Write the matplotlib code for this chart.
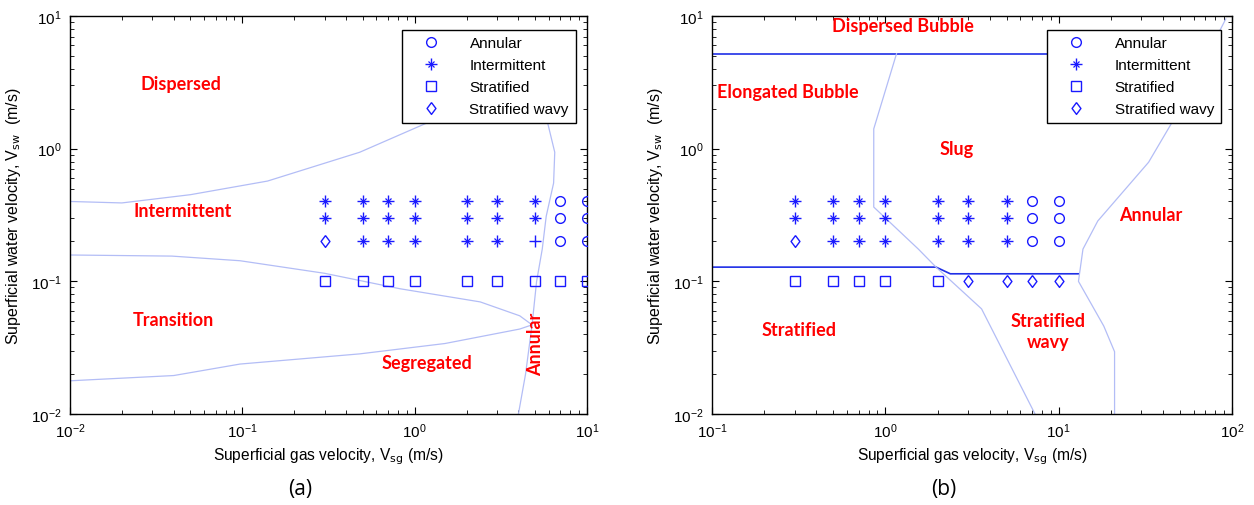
import matplotlib.pyplot as plt
from matplotlib.lines import Line2D

plt.rcParams['font.family'] = ['Liberation Sans', 'DejaVu Sans']

# measurement grid
vsg = [0.3, 0.5, 0.7, 1, 2, 3, 5, 7, 10]
vsw_rows = [0.4, 0.3, 0.2, 0.1]

# observed regime at each grid point, one string per row (row order = vsw_rows)
# o annular, * intermittent, s stratified, d stratified wavy, + intermittent (plus)
obs_a = ['*******oo', '*******oo', 'd*****+oo', 'sssssssss']
obs_b = ['*******oo', '*******oo', 'd******oo', 'sssssdddd']

# (a) boundaries
a_disp_x = [0.01, 0.02, 0.05, 0.14, 0.48, 1.41, 3.0, 4.5]
a_disp_y = [0.40, 0.39, 0.45, 0.57, 0.94, 1.73, 2.6, 3.2]
a_ann_x = [5.0, 5.8, 6.5, 6.4, 5.8, 5.5, 5.1, 4.8, 4.4, 4.0]
a_ann_y = [3.5, 1.73, 0.94, 0.55, 0.31, 0.175, 0.10, 0.047, 0.02, 0.01]
a_int_x = [0.01, 0.039, 0.097, 0.30, 0.82, 2.4, 4.07, 4.8]
a_int_y = [0.158, 0.155, 0.143, 0.115, 0.088, 0.070, 0.055, 0.047]
a_seg_x = [0.01, 0.04, 0.097, 0.48, 1.5, 4.07, 4.8]
a_seg_y = [0.0178, 0.0195, 0.0238, 0.0284, 0.034, 0.0437, 0.047]

# (b) boundaries
b_db_x = [0.1, 10]
b_db_y = [5.2, 5.2]
b_eb_x = [1.16, 0.857, 0.857, 1.55, 1.96, 3.59, 7.3]
b_eb_y = [5.2, 1.41, 0.363, 0.175, 0.128, 0.062, 0.01]
b_st_x = [0.1, 1.96, 2.37, 13.0]
b_st_y = [0.128, 0.128, 0.114, 0.114]
b_an_x = [92, 49, 33, 16.8, 13.8, 13.0, 18.2, 21, 21]
b_an_y = [9.5, 1.9, 0.79, 0.285, 0.175, 0.10, 0.046, 0.0295, 0.01]

labels_a = [('Dispersed', 0.044, 3.1, 0), ('Intermittent', 0.045, 0.34, 0),
            ('Transition', 0.040, 0.052, 0), ('Segregated', 1.17, 0.0243, 0),
            ('Annular', 5.05, 0.0343, 90)]
labels_b = [('Dispersed Bubble', 1.26, 8.55, 0), ('Elongated Bubble', 0.275, 2.72, 0),
            ('Slug', 2.57, 1.0, 0), ('Annular', 34, 0.32, 0),
            ('Stratified', 0.316, 0.043, 0), ('Stratified\nwavy', 8.7, 0.042, 0)]

legend_names = ['Annular', 'Intermittent', 'Stratified', 'Stratified wavy']

LIGHT = '#b3bdf6'
DARK = '#1f2fe6'
BLUE = '#1a1aff'
DIAMOND = [(0, 1), (0.75, 0), (0, -1), (-0.75, 0), (0, 1)]


def asterisk(x, y, ax=None):
    # MATLAB-like '*': a plus with a smaller x on top
    kw = dict(mfc='none', mec=BLUE, ls='none', zorder=3)
    if ax is None:
        return (Line2D([], [], marker='+', ms=9, mew=1.0, **kw),
                Line2D([], [], marker='x', ms=5, mew=0.9, **kw))
    ax.plot(x, y, marker='+', ms=9, mew=1.0, **kw)
    ax.plot(x, y, marker='x', ms=5, mew=0.9, **kw)


mk = {'o': ('o', 7), 's': ('s', 7), 'd': (DIAMOND, 8.5), '+': ('+', 9)}


def draw_points(ax, obs):
    for row, yv in zip(obs, vsw_rows):
        for c, xv in zip(row, vsg):
            if c == '*':
                asterisk(xv, yv, ax)
                continue
            m, s = mk[c]
            ax.plot(xv, yv, marker=m, ms=s, mfc='none', mec=BLUE, mew=1.0,
                    ls='none', zorder=3)


def style(ax, xlim):
    ax.set_xscale('log')
    ax.set_yscale('log')
    ax.set_xlim(*xlim)
    ax.set_ylim(0.01, 10)
    ax.tick_params(which='both', direction='in', top=True, right=True,
                   labelsize=11)
    ax.tick_params(axis='y', pad=6)
    ax.tick_params(axis='x', pad=5)
    ax.tick_params(which='major', length=5)
    ax.tick_params(which='minor', length=3)
    for sp in ax.spines.values():
        sp.set_linewidth(1.0)
    ax.set_xlabel('Superficial gas velocity, V$_{\\rm sg}$ (m/s)', fontsize=11.2,
                  labelpad=4)
    ax.set_ylabel('Superficial water velocity, V$_{\\rm sw}$  (m/s)', fontsize=11.5,
                  labelpad=6)
    handles = [Line2D([], [], marker='o', ms=7, mfc='none', mec=BLUE, ls='none'),
               asterisk(None, None),
               Line2D([], [], marker='s', ms=7, mfc='none', mec=BLUE, ls='none'),
               Line2D([], [], marker=DIAMOND, ms=8.5, mfc='none', mec=BLUE, ls='none')]
    leg = ax.legend(handles, legend_names, loc='upper right',
                    bbox_to_anchor=(0.993, 0.985), fontsize=11, fancybox=False,
                    framealpha=1, edgecolor='black', handletextpad=1.0,
                    labelspacing=0.52, borderpad=0.45, handlelength=3.0)
    leg.get_frame().set_linewidth(1.0)
    leg.set_zorder(5)


fig = plt.figure(figsize=(12.54, 5.06), dpi=100)
ax1 = fig.add_axes([0.0558, 0.1798, 0.4123, 0.7866])
ax2 = fig.add_axes([0.5678, 0.1798, 0.4147, 0.7866])

txt = dict(color='red', fontweight='bold', fontsize=13, ha='center', va='center',
           family=['Lato', 'DejaVu Sans'])

# panel (a)
for xs, ys in [(a_disp_x, a_disp_y), (a_ann_x, a_ann_y), (a_int_x, a_int_y),
               (a_seg_x, a_seg_y)]:
    ax1.plot(xs, ys, color=LIGHT, lw=0.9, zorder=2)
draw_points(ax1, obs_a)
for s, x, y, r in labels_a:
    ax1.text(x, y, s, rotation=r, **txt)
style(ax1, (0.01, 10))

# panel (b)
for xs, ys in [(b_db_x, b_db_y), (b_st_x, b_st_y)]:
    ax2.plot(xs, ys, color=DARK, lw=1.2, zorder=2)
for xs, ys in [(b_eb_x, b_eb_y), (b_an_x, b_an_y)]:
    ax2.plot(xs, ys, color=LIGHT, lw=0.9, zorder=2)
draw_points(ax2, obs_b)
for s, x, y, r in labels_b:
    ax2.text(x, y, s, rotation=r, linespacing=1.3, **txt)
style(ax2, (0.1, 100))

fig.text(300 / 1254, 0.012, '(a)', fontsize=15, ha='center', va='bottom',
         family=['Open Sans', 'DejaVu Sans'])
fig.text(944 / 1254, 0.012, '(b)', fontsize=15, ha='center', va='bottom',
         family=['Open Sans', 'DejaVu Sans'])

fig.savefig('out.png', dpi=100)
